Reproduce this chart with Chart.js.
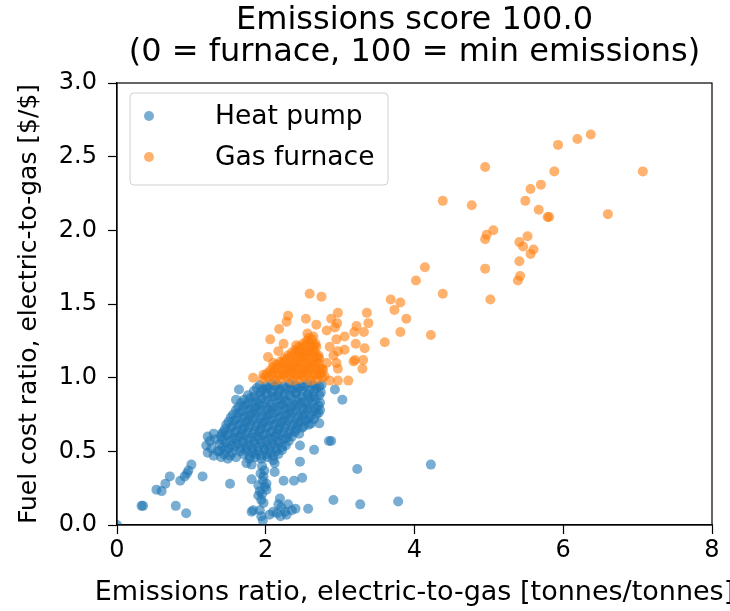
<!doctype html>
<html lang="en">
  <head>
    <meta charset="utf-8">
    <title>Emissions score 100.0</title>
    <script src="https://cdn.jsdelivr.net/npm/chart.js"></script>
    <style>
      body {
        margin: 0;
        background: #fff;
      }
      #wrap {
        width: 730px;
        height: 611px;
      }
    </style>
  </head>
  <body>
    <div id="wrap"><canvas id="scatterChart" width="730" height="611"></canvas></div>

    <script>
      // Heat pump points [emissions ratio, fuel cost ratio]
      const heatPump = [
        // dense body
        [1.92,0.95],[2.00,0.94],[2.08,0.96],[2.16,0.95],[2.24,0.94],[2.32,0.96],[2.40,0.95],[2.48,0.94],[2.56,0.96],[2.64,0.95],[2.72,0.94],
        [1.88,0.93],[1.96,0.92],[2.04,0.93],[2.12,0.94],[2.20,0.92],[2.28,0.93],[2.36,0.92],[2.44,0.93],[2.52,0.94],[2.60,0.92],[2.68,0.93],[2.75,0.95],
        [1.84,0.91],[1.93,0.90],[2.01,0.92],[2.09,0.90],[2.17,0.91],[2.25,0.89],[2.33,0.92],[2.41,0.90],[2.49,0.91],[2.57,0.89],[2.65,0.91],[2.74,0.90],
        [1.76,0.88],[1.84,0.87],[1.92,0.88],[2.00,0.89],[2.08,0.87],[2.16,0.88],[2.24,0.87],[2.32,0.88],[2.40,0.89],[2.48,0.87],[2.56,0.88],[2.64,0.87],[2.72,0.88],
        [1.71,0.85],[1.79,0.86],[1.87,0.84],[1.95,0.86],[2.03,0.85],[2.11,0.87],[2.19,0.85],[2.27,0.84],[2.35,0.86],[2.43,0.85],[2.51,0.84],[2.59,0.86],[2.67,0.85],[2.73,0.83],
        [1.67,0.83],[1.75,0.82],[1.83,0.83],[1.91,0.82],[1.99,0.83],[2.07,0.82],[2.15,0.83],[2.23,0.82],[2.31,0.83],[2.39,0.82],[2.47,0.83],[2.55,0.82],[2.63,0.83],[2.71,0.81],
        [1.63,0.80],[1.71,0.81],[1.79,0.79],[1.87,0.80],[1.95,0.81],[2.03,0.79],[2.11,0.80],[2.19,0.81],[2.27,0.79],[2.35,0.80],[2.43,0.81],[2.51,0.79],[2.59,0.80],[2.67,0.79],[2.73,0.78],
        [1.60,0.78],[1.68,0.77],[1.76,0.78],[1.84,0.77],[1.92,0.78],[2.00,0.77],[2.08,0.78],[2.16,0.77],[2.24,0.78],[2.32,0.77],[2.40,0.78],[2.48,0.77],[2.56,0.78],[2.64,0.77],[2.71,0.76],
        [1.56,0.75],[1.64,0.76],[1.72,0.74],[1.80,0.75],[1.88,0.76],[1.96,0.74],[2.04,0.75],[2.12,0.76],[2.20,0.74],[2.28,0.75],[2.36,0.76],[2.44,0.74],[2.52,0.75],[2.60,0.74],[2.68,0.75],
        [1.53,0.73],[1.61,0.72],[1.69,0.73],[1.77,0.72],[1.85,0.73],[1.93,0.72],[2.01,0.73],[2.09,0.72],[2.17,0.73],[2.25,0.72],[2.33,0.73],[2.41,0.72],[2.49,0.73],[2.57,0.72],[2.65,0.72],
        [1.50,0.70],[1.58,0.71],[1.66,0.69],[1.74,0.70],[1.82,0.71],[1.90,0.69],[1.98,0.70],[2.06,0.71],[2.14,0.69],[2.22,0.70],[2.30,0.71],[2.38,0.69],[2.46,0.70],[2.54,0.71],[2.61,0.69],
        [1.47,0.68],[1.55,0.67],[1.63,0.68],[1.71,0.67],[1.79,0.68],[1.87,0.67],[1.95,0.68],[2.03,0.67],[2.11,0.68],[2.19,0.67],[2.27,0.68],[2.35,0.67],[2.43,0.68],[2.51,0.67],[2.58,0.68],
        [1.45,0.65],[1.53,0.66],[1.61,0.64],[1.69,0.65],[1.77,0.66],[1.85,0.64],[1.93,0.65],[2.01,0.66],[2.09,0.64],[2.17,0.65],[2.25,0.66],[2.33,0.64],[2.41,0.65],[2.49,0.66],
        [1.43,0.63],[1.51,0.62],[1.59,0.63],[1.67,0.62],[1.75,0.63],[1.83,0.62],[1.91,0.63],[1.99,0.62],[2.07,0.63],[2.15,0.62],[2.23,0.63],[2.31,0.62],[2.39,0.63],[2.45,0.62],
        [1.40,0.60],[1.48,0.61],[1.56,0.59],[1.64,0.60],[1.72,0.61],[1.80,0.59],[1.88,0.60],[1.96,0.61],[2.04,0.59],[2.12,0.60],[2.20,0.61],[2.28,0.59],[2.35,0.60],
        [1.42,0.58],[1.52,0.57],[1.60,0.58],[1.68,0.57],[1.76,0.58],[1.84,0.57],[1.92,0.58],[2.00,0.57],[2.08,0.58],[2.16,0.57],[2.24,0.58],[2.31,0.57],
        [1.38,0.55],[1.46,0.56],[1.54,0.54],[1.62,0.55],[1.70,0.56],[1.78,0.54],[1.86,0.55],[1.94,0.56],[2.02,0.54],[2.10,0.55],[2.18,0.56],[2.27,0.54],
        [1.42,0.53],[1.50,0.52],[1.58,0.53],[1.66,0.52],[1.74,0.53],[1.82,0.52],[1.90,0.53],[1.98,0.52],[2.06,0.53],[2.14,0.52],[2.22,0.53],
        [1.38,0.50],[1.46,0.51],[1.55,0.49],[1.66,0.50],[1.74,0.51],[1.82,0.49],[1.90,0.50],[1.98,0.51],[2.06,0.49],[2.14,0.50],[2.22,0.51],
        [1.44,0.48],[1.52,0.47],[1.70,0.48],[1.78,0.47],[1.86,0.48],[1.94,0.47],[2.02,0.48],[2.10,0.47],[2.17,0.48],
        [1.40,0.46],[1.49,0.45],[1.60,0.46],[1.78,0.45],[1.86,0.46],[1.94,0.45],[2.02,0.46],[2.10,0.44],
        // scattered
        [1.64,0.92],[1.60,0.85],[2.93,0.92],[3.03,0.85],[2.72,0.69],[2.85,0.57],[2.88,0.57],[2.46,0.54],[2.65,0.51],[2.46,0.43],[3.23,0.38],[4.22,0.41],
        [1.22,0.60],[1.20,0.54],[1.22,0.49],[1.30,0.47],[1.41,0.62],[1.25,0.57],[1.27,0.52],[1.32,0.58],[1.35,0.50],[1.30,0.62],
        [1.74,0.42],[1.81,0.41],[1.00,0.41],[0.96,0.37],[0.94,0.35],[0.91,0.33],[0.85,0.30],[0.71,0.33],[0.65,0.28],[0.53,0.24],[0.60,0.23],[1.15,0.33],
        [0.33,0.13],[0.35,0.13],[0.79,0.13],[0.93,0.08],[0.00,0.00],
        [1.52,0.28],[1.81,0.31],[1.97,0.33],[2.01,0.28],[2.12,0.42],[2.12,0.36],[2.24,0.30],[2.38,0.30],[2.49,0.32],
        [1.95,0.40],[1.98,0.37],[1.93,0.35],[1.96,0.30],[1.90,0.27],[1.99,0.26],[1.95,0.21],
        [1.92,0.23],[1.90,0.20],[1.94,0.17],[1.97,0.15],[2.01,0.24],[1.92,0.10],[1.83,0.10],[1.81,0.09],[1.94,0.06],[1.96,0.03],
        [2.19,0.18],[2.17,0.14],[2.30,0.14],[2.35,0.10],[2.26,0.09],[2.15,0.08],[2.10,0.09],[2.21,0.12],[2.40,0.11],[2.57,0.11],
        [2.05,0.07],[2.20,0.06],[2.28,0.07],
        [2.91,0.17],[3.27,0.14],[3.78,0.16]
      ];

      // Gas furnace points [emissions ratio, fuel cost ratio]
      const gasFurnace = [
        // dense wedge
        [1.96,0.99],[2.04,1.00],[2.12,0.98],[2.20,0.99],[2.28,1.00],[2.36,0.98],[2.44,0.99],[2.52,1.00],[2.60,0.98],[2.68,0.99],[2.76,1.00],
        [2.00,1.01],[2.08,1.02],[2.16,1.01],[2.24,1.02],[2.32,1.01],[2.40,1.02],[2.48,1.01],[2.56,1.02],[2.64,1.01],[2.72,1.02],[2.79,1.01],
        [2.02,1.03],[2.10,1.04],[2.18,1.02],[2.26,1.03],[2.34,1.04],[2.42,1.02],[2.50,1.03],[2.58,1.04],[2.66,1.02],[2.74,1.03],
        [2.06,1.05],[2.14,1.06],[2.22,1.05],[2.30,1.06],[2.38,1.05],[2.46,1.06],[2.54,1.05],[2.62,1.06],[2.70,1.05],[2.76,1.06],
        [2.10,1.07],[2.18,1.08],[2.26,1.06],[2.34,1.07],[2.42,1.08],[2.50,1.06],[2.58,1.07],[2.66,1.08],[2.73,1.06],
        [2.15,1.09],[2.23,1.10],[2.31,1.09],[2.39,1.10],[2.47,1.09],[2.55,1.10],[2.63,1.09],[2.71,1.10],
        [2.20,1.11],[2.28,1.12],[2.36,1.10],[2.44,1.11],[2.52,1.12],[2.60,1.10],[2.68,1.11],[2.72,1.13],
        [2.25,1.13],[2.33,1.14],[2.41,1.13],[2.49,1.14],[2.57,1.13],[2.65,1.14],[2.71,1.15],
        [2.30,1.15],[2.38,1.16],[2.46,1.14],[2.54,1.15],[2.62,1.16],[2.69,1.14],
        [2.35,1.17],[2.43,1.18],[2.51,1.17],[2.59,1.18],[2.66,1.17],
        [2.40,1.19],[2.48,1.20],[2.56,1.18],[2.64,1.19],[2.68,1.21],
        [2.45,1.21],[2.53,1.22],[2.61,1.21],[2.67,1.23],
        [2.50,1.23],[2.58,1.24],[2.65,1.22],
        [2.55,1.25],[2.62,1.26],
        [2.58,1.27],[2.64,1.28],
        // scattered near the wedge
        [2.59,1.57],[2.75,1.55],[2.30,1.42],[2.28,1.38],[2.18,1.33],[2.54,1.40],[2.68,1.36],[2.56,1.30],
        [2.06,1.26],[2.24,1.23],[2.17,1.18],[2.41,1.22],[2.44,1.18],[2.10,1.10],[2.03,1.14],[2.35,1.04],
        [1.83,1.00],[1.97,1.02],[2.86,0.98],[2.97,0.98],[3.11,0.98],
        [2.97,1.44],[2.88,1.40],[2.96,1.37],[2.93,1.34],[2.82,1.32],[2.95,1.26],[2.86,1.21],[2.97,1.18],
        [2.91,1.15],[2.95,1.10],[2.82,1.10],[2.77,1.05],[2.97,1.06],
        [3.36,1.44],[3.38,1.37],[3.22,1.35],[3.19,1.31],[3.32,1.31],[3.06,1.28],[3.21,1.23],[3.33,1.20],
        [3.06,1.19],[3.20,1.12],[3.31,1.12],[3.18,1.11],[3.30,1.06],
        // upper arm
        [3.60,1.24],[3.81,1.31],[4.22,1.29],[3.89,1.40],[3.73,1.46],[3.68,1.53],[3.81,1.51],[4.38,1.57],[5.02,1.53],
        [4.02,1.66],[4.14,1.75],[4.95,1.74],[5.42,1.69],[5.39,1.66],[5.41,1.79],[5.56,1.84],[5.60,1.87],
        [5.46,1.89],[5.41,1.92],[5.52,1.96],[4.95,1.94],[4.97,1.97],[5.06,2.00],
        [4.38,2.20],[4.77,2.17],[5.49,2.20],[5.67,2.14],[5.79,2.09],[5.81,2.09],[6.60,2.11],
        [5.56,2.28],[5.70,2.31],[4.95,2.43],[5.88,2.40],[7.07,2.40],
        [5.93,2.58],[6.19,2.62],[6.37,2.65]
      ];

      const xTicks = [0, 2, 4, 6, 8];
      const yTicks = [0, 0.5, 1.0, 1.5, 2.0, 2.5, 3.0];

      const titleLines = ['Emissions score 100.0', '(0 = furnace, 100 = min emissions)'];
      const xLabel = 'Emissions ratio, electric-to-gas [tonnes/tonnes]';
      const seriesNames = ['Heat pump', 'Gas furnace'];
      const seriesColors = ['rgba(31, 119, 180, 0.6)', 'rgba(255, 127, 14, 0.6)'];

      const FONT = 'DejaVu Sans';

      // title and x label centred over the axes, frame, and matplotlib style legend
      const framePlugin = {
        id: 'frame',
        afterDraw(chart) {
          const { ctx, chartArea } = chart;
          ctx.save();
          ctx.strokeStyle = '#000';
          ctx.lineWidth = 1.2;
          ctx.strokeRect(chartArea.left, chartArea.top, chartArea.right - chartArea.left, chartArea.bottom - chartArea.top);

          // title
          const cx = (chartArea.left + chartArea.right) / 2;
          ctx.fillStyle = '#000';
          ctx.font = '32px "' + FONT + '"';
          ctx.textAlign = 'center';
          ctx.textBaseline = 'middle';
          titleLines.forEach((t, i) => ctx.fillText(t, cx, 21 + i * 32));

          // x axis label (wider than the axes, so not through the scale title)
          ctx.font = '27px "' + FONT + '"';
          ctx.fillText(xLabel, cx, 593);

          // legend box
          const bx = 130, by = 93, bw = 258, bh = 92, r = 4;
          ctx.beginPath();
          ctx.moveTo(bx + r, by);
          ctx.arcTo(bx + bw, by, bx + bw, by + bh, r);
          ctx.arcTo(bx + bw, by + bh, bx, by + bh, r);
          ctx.arcTo(bx, by + bh, bx, by, r);
          ctx.arcTo(bx, by, bx + bw, by, r);
          ctx.closePath();
          ctx.fillStyle = 'rgba(255,255,255,0.8)';
          ctx.fill();
          ctx.strokeStyle = '#d0d0d0';
          ctx.lineWidth = 1;
          ctx.stroke();

          ctx.font = '26.5px "' + FONT + '"';
          ctx.textBaseline = 'middle';
          ctx.textAlign = 'left';
          seriesNames.forEach((name, i) => {
            const cy = 117 + i * 41;
            ctx.beginPath();
            ctx.arc(149, cy - 1, 5, 0, Math.PI * 2);
            ctx.fillStyle = seriesColors[i];
            ctx.fill();
            ctx.fillStyle = '#000';
            ctx.fillText(name, 215, cy);
          });
          ctx.restore();
        }
      };

      const toPoints = arr => arr.map(p => ({ x: p[0], y: p[1] }));

      const ctx = document.getElementById('scatterChart').getContext('2d');
      new Chart(ctx, {
        type: 'scatter',
        data: {
          datasets: [
            {
              label: seriesNames[0],
              data: toPoints(heatPump),
              backgroundColor: seriesColors[0],
              borderWidth: 0,
              pointRadius: 5,
              order: 1
            },
            {
              label: seriesNames[1],
              data: toPoints(gasFurnace),
              backgroundColor: seriesColors[1],
              borderWidth: 0,
              pointRadius: 5,
              order: 0
            }
          ]
        },
        options: {
          responsive: false,
          animation: false,
          layout: { padding: { left: 0, right: 18, top: 83, bottom: 0 } },
          plugins: {
            legend: { display: false },
            tooltip: { enabled: false },
            title: { display: false }
          },
          scales: {
            x: {
              type: 'linear',
              min: 0,
              max: 8,
              afterBuildTicks: scale => { scale.ticks = xTicks.map(v => ({ value: v })); },
              ticks: {
                color: '#000',
                padding: 2,
                font: { family: FONT, size: 24 },
                callback: v => String(v)
              },
              grid: { drawOnChartArea: false, drawTicks: true, tickLength: 9, color: '#000', tickWidth: 1.2 },
              border: { display: true, color: '#000', width: 1.2 },
              title: { display: false },
              afterFit: scale => { scale.height = 86; }
            },
            y: {
              type: 'linear',
              min: 0,
              max: 3,
              afterBuildTicks: scale => { scale.ticks = yTicks.map(v => ({ value: v })); },
              ticks: {
                color: '#000',
                padding: 11,
                font: { family: FONT, size: 24 },
                callback: v => v.toFixed(1)
              },
              grid: { drawOnChartArea: false, drawTicks: true, tickLength: 9, color: '#000', tickWidth: 1.2 },
              border: { display: true, color: '#000', width: 1.2 },
              title: {
                display: true,
                text: 'Fuel cost ratio, electric-to-gas [$/$]',
                color: '#000',
                font: { family: FONT, size: 25 },
                padding: { top: 14, bottom: 2 }
              },
              afterFit: scale => { scale.width = 117; }
            }
          }
        },
        plugins: [framePlugin]
      });
    </script>
  </body>
</html>
